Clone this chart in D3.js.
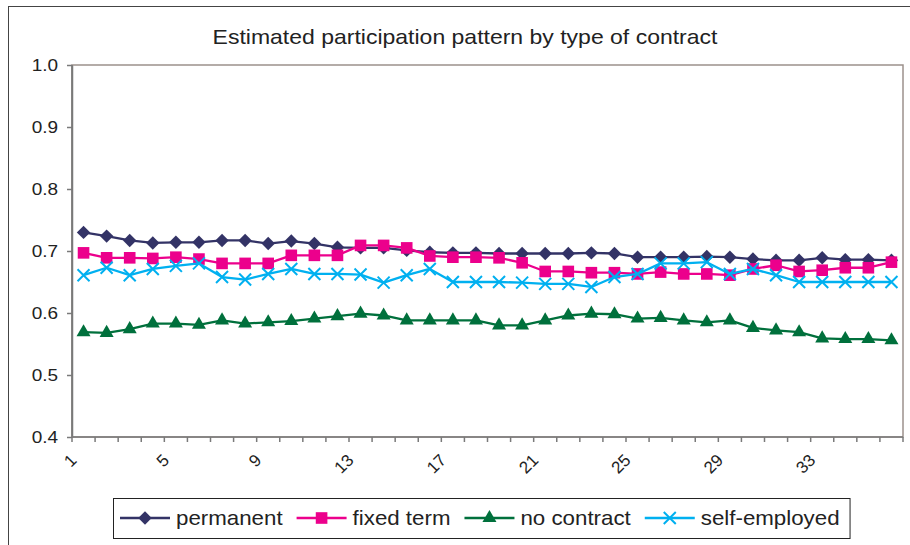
<!DOCTYPE html>
<meta charset="utf-8">
<style>
    body { margin: 0; background: #fff; }
    text { font-family: 'Liberation Sans', Arial, sans-serif; fill: #222; }
    .series-line { fill: none; stroke-width: 2.3px; stroke-linejoin: round; }
    .axis path, .axis line { stroke: #7a7a7a; stroke-width: 1.5px; }
    .plot-frame { fill: none; stroke: #9c918c; stroke-width: 1.5px; }
    .chart-frame { fill: none; stroke: #444; stroke-width: 1px; }
    .legend-box { fill: #fff; stroke: #222; stroke-width: 1px; }
</style>
<body>
<div id="chart"></div>
<script src="https://cdn.jsdelivr.net/npm/d3@7"></script>
<script>
    var width = 910,
        height = 545;

    var plot_left = 72,
        plot_right = 903,
        plot_top = 65,
        plot_bottom = 437;

    // the picture is a bit wider than it is tall, text included
    var stretch = 1.15;

    var periods = [1, 2, 3, 4, 5, 6, 7, 8, 9, 10, 11, 12, 13, 14, 15, 16, 17, 18,
                   19, 20, 21, 22, 23, 24, 25, 26, 27, 28, 29, 30, 31, 32, 33, 34, 35, 36];
    var tick_labels = [1, 5, 9, 13, 17, 21, 25, 29, 33];
    var y_ticks = [0.4, 0.5, 0.6, 0.7, 0.8, 0.9, 1.0];

    var permanent = [0.730, 0.724, 0.717, 0.713, 0.714, 0.714, 0.717, 0.717, 0.712, 0.716, 0.712, 0.706,
                     0.705, 0.705, 0.701, 0.698, 0.697, 0.697, 0.696, 0.696, 0.696, 0.696, 0.697, 0.696,
                     0.690, 0.690, 0.690, 0.691, 0.690, 0.687, 0.685, 0.685, 0.689, 0.686, 0.686, 0.685];
    var fixed_term = [0.697, 0.689, 0.689, 0.688, 0.690, 0.687, 0.680, 0.680, 0.680, 0.693, 0.693, 0.693,
                      0.709, 0.709, 0.705, 0.692, 0.690, 0.690, 0.689, 0.681, 0.667, 0.667, 0.665, 0.665,
                      0.663, 0.666, 0.663, 0.663, 0.661, 0.671, 0.677, 0.667, 0.669, 0.673, 0.673, 0.682];
    var no_contract = [0.569, 0.568, 0.574, 0.583, 0.583, 0.581, 0.588, 0.583, 0.585, 0.587, 0.591, 0.595,
                       0.599, 0.596, 0.588, 0.588, 0.588, 0.588, 0.580, 0.580, 0.588, 0.596, 0.599, 0.598,
                       0.591, 0.592, 0.588, 0.585, 0.588, 0.576, 0.572, 0.569, 0.559, 0.558, 0.558, 0.556];
    var self_employed = [0.661, 0.673, 0.661, 0.671, 0.676, 0.680, 0.658, 0.654, 0.663, 0.671, 0.663, 0.663,
                         0.662, 0.649, 0.661, 0.671, 0.650, 0.650, 0.650, 0.649, 0.647, 0.647, 0.642, 0.658,
                         0.663, 0.680, 0.680, 0.682, 0.663, 0.671, 0.661, 0.650, 0.650, 0.650, 0.650, 0.650];

    var series_names = ["permanent", "fixed term", "no contract", "self-employed"];
    var series_colors = ["#333366", "#ec008c", "#00703c", "#00b0f0"];
    var series_shapes = ["diamond", "square", "triangle", "cross"];
    var series_values = [permanent, fixed_term, no_contract, self_employed];

    var series = series_names.map((name, i) => ({
        name: name,
        color: series_colors[i],
        shape: series_shapes[i],
        points: periods.map((p, j) => ({period: p, value: series_values[i][j]}))
    }));

    var svg = d3.select("#chart").append("svg")
        .attr("width", width)
        .attr("height", height);

    var x = d3.scaleBand()
        .domain(periods)
        .range([plot_left, plot_right])
        .padding(0);

    var y = d3.scaleLinear()
        .domain([0.4, 1.0])
        .range([plot_bottom, plot_top]);

    function stretched_text(parent, px, py, label, size, anchor) {
        return parent.append("g")
            .attr("transform", "translate(" + px + "," + py + ") scale(" + stretch + ",1)")
            .append("text")
            .attr("text-anchor", anchor || "start")
            .attr("dy", "0.35em")
            .style("font-size", size + "px")
            .text(label);
    }

    function draw_marker(g, shape, color) {
        if (shape === "diamond") {
            g.append("path")
                .attr("d", d3.symbol(d3.symbolSquare, 90)())
                .attr("transform", "rotate(45)")
                .attr("fill", color);
        } else if (shape === "square") {
            g.append("path")
                .attr("d", d3.symbol(d3.symbolSquare, 135)())
                .attr("fill", color);
        } else if (shape === "triangle") {
            g.append("path")
                .attr("d", d3.symbol(d3.symbolTriangle, 85)())
                .attr("fill", color);
        } else {
            g.append("path")
                .attr("d", "M-6,-6L6,6M-6,6L6,-6")
                .attr("fill", "none")
                .attr("stroke", color)
                .attr("stroke-width", 2);
        }
    }

    // outer frame of the chart object
    svg.append("rect")
        .attr("class", "chart-frame")
        .attr("x", 8.5)
        .attr("y", 6.5)
        .attr("width", 1000)
        .attr("height", 1000);

    stretched_text(svg, 465, 37,
                   "Estimated participation pattern by type of contract", 20, "middle");

    // plot area frame (top and right are lighter)
    svg.append("rect")
        .attr("class", "plot-frame")
        .attr("x", plot_left)
        .attr("y", plot_top)
        .attr("width", plot_right - plot_left)
        .attr("height", plot_bottom - plot_top);

    var y_axis = svg.append("g")
        .attr("class", "axis")
        .attr("transform", "translate(" + plot_left + ",0)")
        .call(d3.axisLeft(y).tickValues(y_ticks).tickSize(5).tickSizeOuter(0).tickFormat(d3.format(".1f")));
    y_axis.selectAll("text")
        .attr("x", -14 / stretch)
        .attr("dy", "0.35em")
        .attr("transform", "scale(" + stretch + ",1)")
        .style("font-size", "16.5px");

    // x ticks sit on the category boundaries
    var boundaries = periods.map(p => x(p)).concat([x(periods[periods.length - 1]) + x.bandwidth()]);
    svg.append("g")
        .attr("class", "axis")
        .selectAll("line")
        .data(boundaries)
        .enter().append("line")
        .attr("x1", d => d)
        .attr("x2", d => d)
        .attr("y1", plot_bottom)
        .attr("y2", plot_bottom + 5);

    var x_axis = svg.append("g")
        .attr("class", "axis")
        .attr("transform", "translate(0," + plot_bottom + ")")
        .call(d3.axisBottom(x).tickValues(tick_labels).tickSize(0).tickSizeOuter(0));
    x_axis.select(".domain").remove();
    x_axis.selectAll("text")
        .attr("y", 0)
        .attr("dy", "0.35em")
        .attr("text-anchor", "end")
        .attr("transform", "translate(-10,20) rotate(-45)")
        .style("font-size", "17px");

    svg.append("line")
        .attr("x1", plot_left).attr("x2", plot_right)
        .attr("y1", plot_bottom).attr("y2", plot_bottom)
        .attr("stroke", "#7a7a7a")
        .attr("stroke-width", 1.5);
    svg.append("line")
        .attr("x1", plot_left).attr("x2", plot_left)
        .attr("y1", plot_top).attr("y2", plot_bottom)
        .attr("stroke", "#7a7a7a")
        .attr("stroke-width", 1.5);

    var line = d3.line()
        .x(d => x(d.period) + x.bandwidth() / 2)
        .y(d => y(d.value));

    series.forEach(s => {
        svg.append("path")
            .datum(s.points)
            .attr("class", "series-line")
            .attr("stroke", s.color)
            .attr("d", line);

        svg.append("g")
            .selectAll("g")
            .data(s.points)
            .enter().append("g")
            .attr("transform", d => "translate(" + (x(d.period) + x.bandwidth() / 2) + "," + y(d.value) + ")")
            .each(function() { draw_marker(d3.select(this), s.shape, s.color); });
    });

    // legend
    var legend_top = 498,
        legend_height = 40,
        legend_left = 113;
    var legend_box = svg.append("rect")
        .attr("class", "legend-box")
        .attr("x", legend_left + 0.5)
        .attr("y", legend_top + 0.5)
        .attr("height", legend_height);
    var legend = svg.append("g");
    var cursor = legend_left + 7;
    var ly = legend_top + legend_height / 2;
    series.forEach(s => {
        legend.append("line")
            .attr("x1", cursor).attr("x2", cursor + 50)
            .attr("y1", ly).attr("y2", ly)
            .attr("stroke", s.color)
            .attr("stroke-width", 2.3);
        var m = legend.append("g").attr("transform", "translate(" + (cursor + 25) + "," + ly + ")");
        draw_marker(m, s.shape, s.color);
        var t = stretched_text(legend, cursor + 56, ly, s.name, 19.4);
        cursor = cursor + 56 + t.node().getComputedTextLength() * stretch + 14;
    });
    legend_box.attr("width", cursor - 14 + 10 - legend_left);
</script>
</body>
